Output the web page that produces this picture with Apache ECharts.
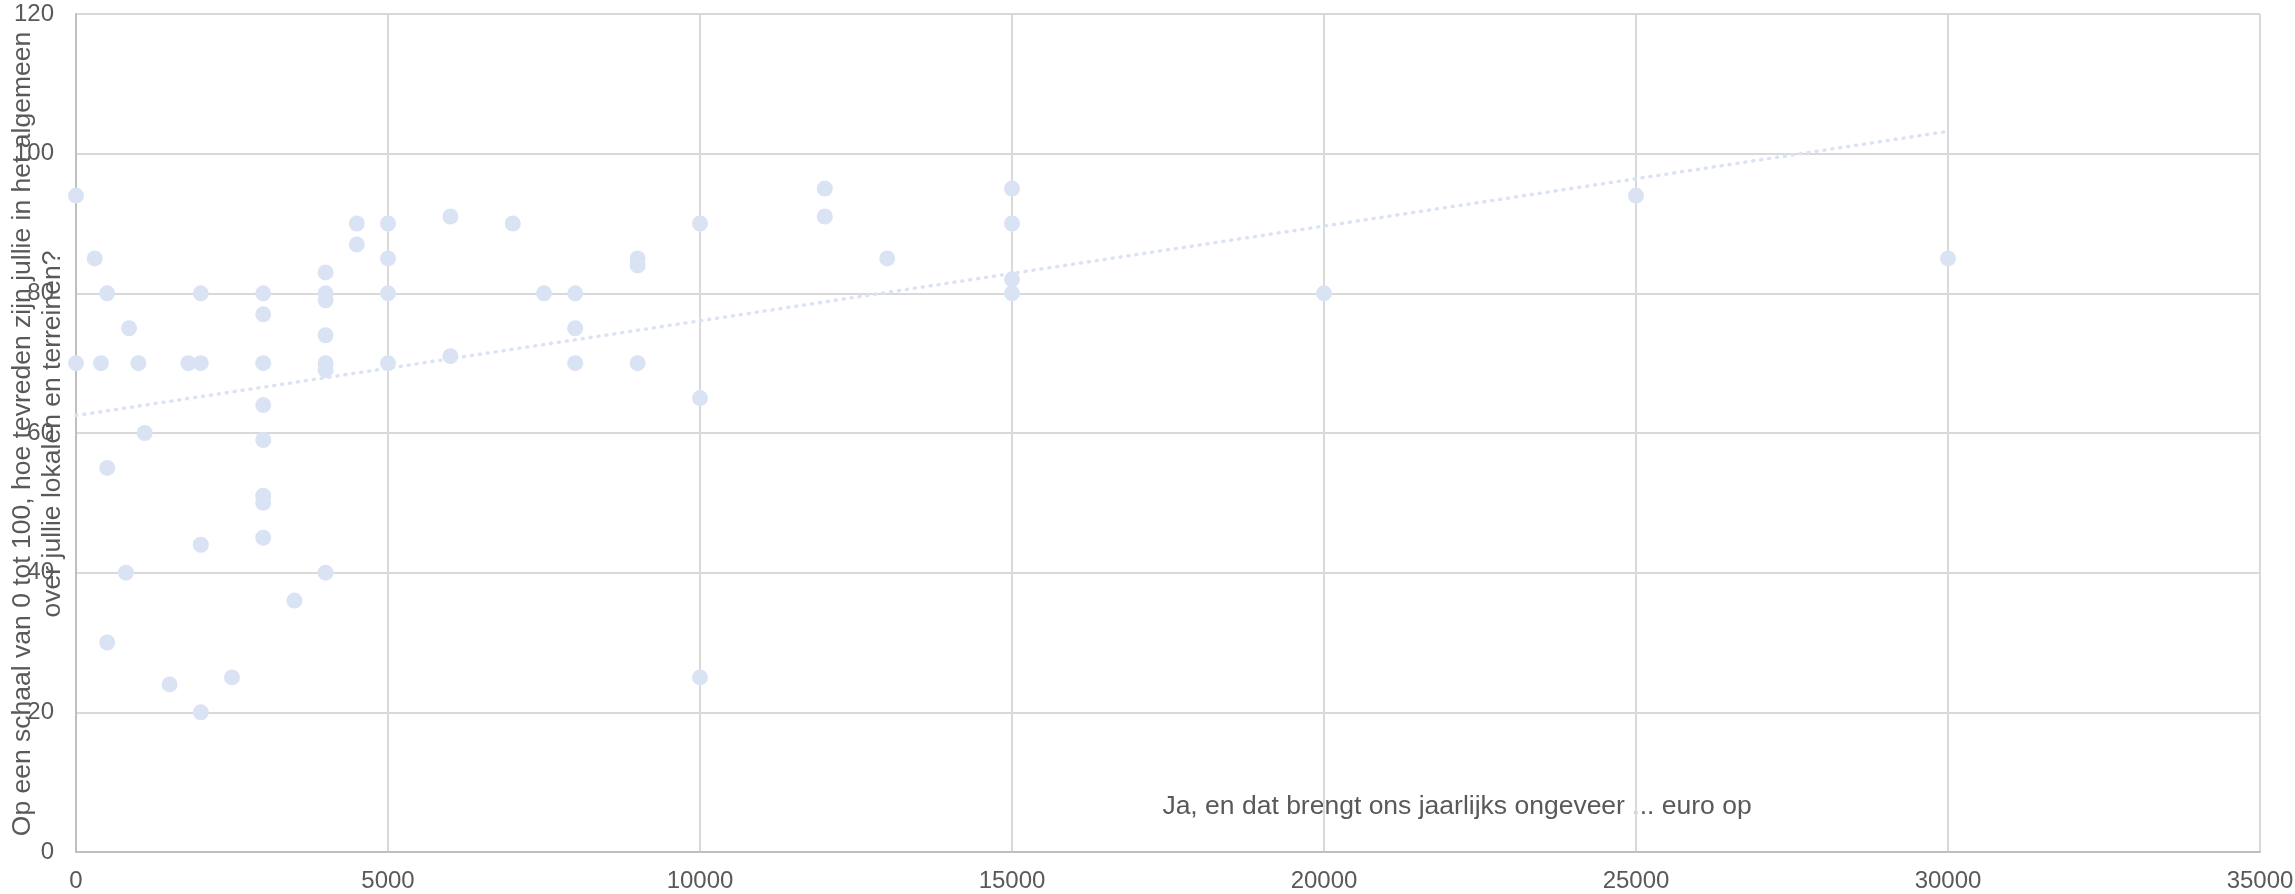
<!DOCTYPE html>
<html>
<head>
<meta charset="utf-8">
<script src="https://cdn.jsdelivr.net/npm/echarts@6/dist/echarts.min.js"></script>
<style>
  html, body { margin: 0; padding: 0; background: #fff; }
  #chart { width: 2295px; height: 894px; }
</style>
</head>
<body>
<div id="chart"></div>
<script>
// opbrengst per jaar (euro) en tevredenheid (0-100)
const revenue = [
  0, 0, 300, 500, 500, 500, 400, 800, 850, 1000, 1100, 1500, 1800,
  2000, 2000, 2000, 2000, 2500,
  3000, 3000, 3000, 3000, 3000, 3000, 3000, 3000, 3500,
  4000, 4000, 4000, 4000, 4000, 4000, 4000, 4500, 4500,
  5000, 5000, 5000, 5000, 6000, 6000, 7000, 7500,
  8000, 8000, 8000, 9000, 9000, 9000,
  10000, 10000, 10000, 12000, 12000, 13000,
  15000, 15000, 15000, 15000, 20000, 25000, 30000
]
const satisfaction = [
  94, 70, 85, 80, 55, 30, 70, 40, 75, 70, 60, 24, 70,
  70, 80, 44, 20, 25,
  80, 77, 70, 64, 59, 51, 50, 45, 36,
  83, 80, 79, 74, 70, 69, 40, 90, 87,
  90, 85, 80, 70, 91, 71, 90, 80,
  80, 75, 70, 85, 84, 70,
  90, 65, 25, 95, 91, 85,
  95, 90, 82, 80, 80, 94, 85
]

const trendX = [0, 30000]
const trendY = [62.5, 103.2]

const xTicks = { min: 0, max: 35000, interval: 5000 }
const yTicks = { min: 0, max: 120, interval: 20 }

const xTitle = 'Ja, en dat brengt ons jaarlijks ongeveer ... euro op'
const yTitle = 'Op een schaal van 0 tot 100, hoe tevreden zijn jullie in het algemeen\nover jullie lokalen en terreinen?'

const chart = echarts.init(document.getElementById('chart'))

const textColor = '#595959'
const gridColor = '#d9d9d9'
const dotColor = '#dae3f3'
const fontFamily = '"Liberation Sans", Arial, sans-serif'

const option = {
  backgroundColor: '#ffffff',
  animation: false,
  grid: {
    left: 76,
    right: 35,
    top: 14,
    bottom: 42,
    containLabel: false,
    outerBoundsMode: 'none'
  },
  xAxis: {
    type: 'value',
    min: xTicks.min,
    max: xTicks.max,
    interval: xTicks.interval,
    axisLine: { show: true, lineStyle: { color: '#bfbfbf', width: 2 } },
    axisTick: { show: false },
    splitLine: { show: true, lineStyle: { color: gridColor, width: 2 } },
    axisLabel: {
      color: textColor,
      fontSize: 24,
      fontFamily: fontFamily,
      margin: 17,
      formatter: (v) => String(v)
    }
  },
  yAxis: {
    type: 'value',
    min: yTicks.min,
    max: yTicks.max,
    interval: yTicks.interval,
    axisLine: { show: true, lineStyle: { color: '#bfbfbf', width: 2 } },
    axisTick: { show: false },
    splitLine: { show: true, lineStyle: { color: gridColor, width: 2 } },
    axisLabel: {
      color: textColor,
      fontSize: 24,
      fontFamily: fontFamily,
      margin: 22,
      formatter: (v) => String(v)
    }
  },
  graphic: [
    {
      type: 'text',
      x: 1457,
      y: 807,
      style: {
        text: xTitle,
        fill: textColor,
        font: '26.5px ' + fontFamily,
        align: 'center',
        verticalAlign: 'middle'
      }
    },
    {
      type: 'text',
      x: 38,
      y: 434,
      rotation: Math.PI / 2,
      style: {
        text: yTitle,
        fill: textColor,
        font: '26.5px ' + fontFamily,
        lineHeight: 30,
        align: 'center',
        verticalAlign: 'middle'
      }
    }
  ],
  series: [
    {
      type: 'scatter',
      symbol: 'circle',
      symbolSize: 16,
      itemStyle: { color: dotColor, opacity: 1 },
      data: revenue.map((x, i) => [x, satisfaction[i]]),
      z: 3
    },
    {
      type: 'line',
      symbol: 'none',
      silent: true,
      lineStyle: { color: dotColor, width: 3.5, type: [1, 7], cap: 'round' },
      data: trendX.map((x, i) => [x, trendY[i]]),
      z: 2
    }
  ]
}

chart.setOption(option)
</script>
</body>
</html>
